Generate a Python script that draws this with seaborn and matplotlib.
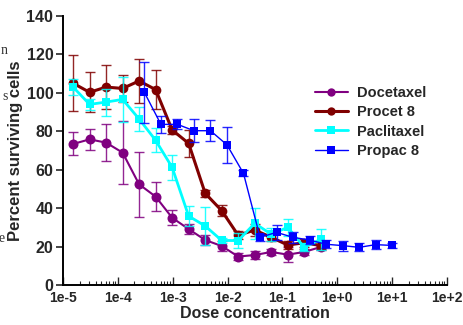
import numpy as np
import pandas as pd
import seaborn as sns
import matplotlib.pyplot as plt
from matplotlib.ticker import FixedLocator, LogLocator, NullFormatter

sns.set_style('ticks')
plt.rcParams['font.family'] = ['Liberation Sans', 'DejaVu Sans']

# dose concentrations (two-fold dilutions)
dose_a = [1.53e-5, 3.05e-5, 6.1e-5, 1.22e-4, 2.44e-4, 4.88e-4, 9.77e-4, 1.95e-3,
          3.91e-3, 7.81e-3, 1.56e-2, 3.13e-2, 6.25e-2, 0.125, 0.25, 0.5]
dose_b = [3.05e-4, 6.1e-4, 1.22e-3, 2.44e-3, 4.88e-3, 9.77e-3, 1.95e-2, 3.91e-2,
          7.81e-2, 0.156, 0.3125, 0.625, 1.25, 2.5, 5.0, 10.0]

docetaxel = [73.4, 75.8, 74.1, 68.9, 52.4, 46.0, 35.0, 29.1, 23.4, 20.3, 14.8, 15.6, 17.2, 15.8, 17.2, 19.8]
docetaxel_err = [6, 5.5, 9.6, 16.5, 17, 7.5, 4, 2.8, 2.5, 2.5, 2, 2, 1.5, 4, 1.5, 1.5]

procet = [105.0, 100.3, 103.0, 102.3, 106.2, 101.7, 80.7, 73.7, 47.7, 38.7, 25.9, 28.6, 24.8, 20.8, 22.0, 20.5]
procet_err = [14.5, 10.5, 11.5, 7, 11.5, 10, 2, 7, 2, 3, 2, 3, 2, 2, 2, 2]

paclitaxel = [103.0, 94.0, 95.2, 96.6, 86.4, 75.3, 61.2, 35.9, 30.7, 23.2, 23.1, 32.1, 26.4, 30.0, 19.6, 23.8]
paclitaxel_err = [4, 3, 7, 11.8, 6.4, 6.3, 6.3, 5, 10, 1.5, 4, 8, 3.5, 4.4, 2, 5.6]

propac = [100.2, 83.6, 83.6, 80.3, 80.3, 72.9, 58.1, 24.8, 27.4, 24.8, 23.4, 21.2, 20.5, 19.6, 21.0, 20.6]
propac_err = [16, 4.3, 2.6, 6, 5.5, 9.5, 1.5, 2, 4, 3, 2, 2, 2.6, 2, 2.4, 1.5]

x_ticks = [1e-5, 1e-4, 1e-3, 1e-2, 1e-1, 1e0, 1e1, 1e2]
x_labels = ['1e-5', '1e-4', '1e-3', '1e-2', '1e-1', '1e+0', '1e+1', '1e+2']
y_ticks = [0, 20, 40, 60, 80, 100, 120, 140]

series = [
    ('Docetaxel', dose_a, docetaxel, docetaxel_err, '#800080', 'o', 7.2, 1.5),
    ('Procet 8', dose_a, procet, procet_err, '#800000', 'o', 7.0, 2.2),
    ('Paclitaxel', dose_a, paclitaxel, paclitaxel_err, '#00FFFF', 's', 5.8, 2.0),
    ('Propac 8', dose_b, propac, propac_err, '#0000FF', 's', 5.2, 1.0),
]

fig = plt.figure(figsize=(4.63, 3.25), dpi=100)
ax = fig.add_axes([63 / 463, 40 / 325, 384 / 463, 269 / 325])

for name, xs, ys, errs, col, mk, ms, lw in series:
    df = pd.DataFrame({'dose': xs, 'pct': ys})
    ax.errorbar(xs, ys, yerr=errs, fmt='none', ecolor=col, elinewidth=1.0,
                capsize=3.3, capthick=1.0, alpha=0.85)
    sns.lineplot(data=df, x='dose', y='pct', ax=ax, color=col, marker=mk,
                 markersize=ms, markeredgewidth=0, linewidth=lw, label=name)

ax.set_xscale('log')
ax.set_xlim(1e-5, 1e2)
ax.set_ylim(0, 140)
ax.xaxis.set_major_locator(FixedLocator(x_ticks))
ax.set_xticklabels(x_labels)
ax.xaxis.set_minor_locator(LogLocator(base=10, subs=np.arange(2, 10), numticks=20))
ax.xaxis.set_minor_formatter(NullFormatter())
ax.set_yticks(y_ticks)

for lab in ax.get_xticklabels():
    lab.set_fontweight('bold')
    lab.set_fontsize(10)
for lab in ax.get_yticklabels():
    lab.set_fontweight('bold')
    lab.set_fontsize(11.5)

ax.tick_params(axis='x', which='major', direction='in', length=6, width=1, pad=4)
ax.tick_params(axis='x', which='minor', direction='in', length=3, width=0.8)
ax.tick_params(axis='y', direction='out', length=5, width=1.2, pad=2)

sns.despine(ax=ax)
for sp in ['left', 'bottom']:
    ax.spines[sp].set_linewidth(1.4)
    ax.spines[sp].set_color('black')

ax.set_xlabel('Dose concentration', fontsize=11.5, fontweight='bold', labelpad=1)
ax.set_ylabel('Percent surviving cells', fontsize=12, fontweight='bold')
ax.yaxis.set_label_coords(-0.104, 0.5)

leg = ax.legend(loc='center left', bbox_to_anchor=(0.655, 0.606), frameon=False,
                prop={'weight': 'bold', 'size': 10.5}, handlelength=2.3,
                handletextpad=0.6, labelspacing=0.35, borderpad=0, borderaxespad=0)
for h in leg.legend_handles:
    h.set_markersize(6)

# fragments of neighbouring text at the left edge
for ch, xp, yp in [('n', 8, 51), ('s', 8, 96), ('e', 5, 238)]:
    fig.text(xp / 463, 1 - yp / 325, ch, ha='right', va='center',
             fontsize=10, family='Liberation Serif', color='#333333')

fig.savefig('out.png', dpi=100)
